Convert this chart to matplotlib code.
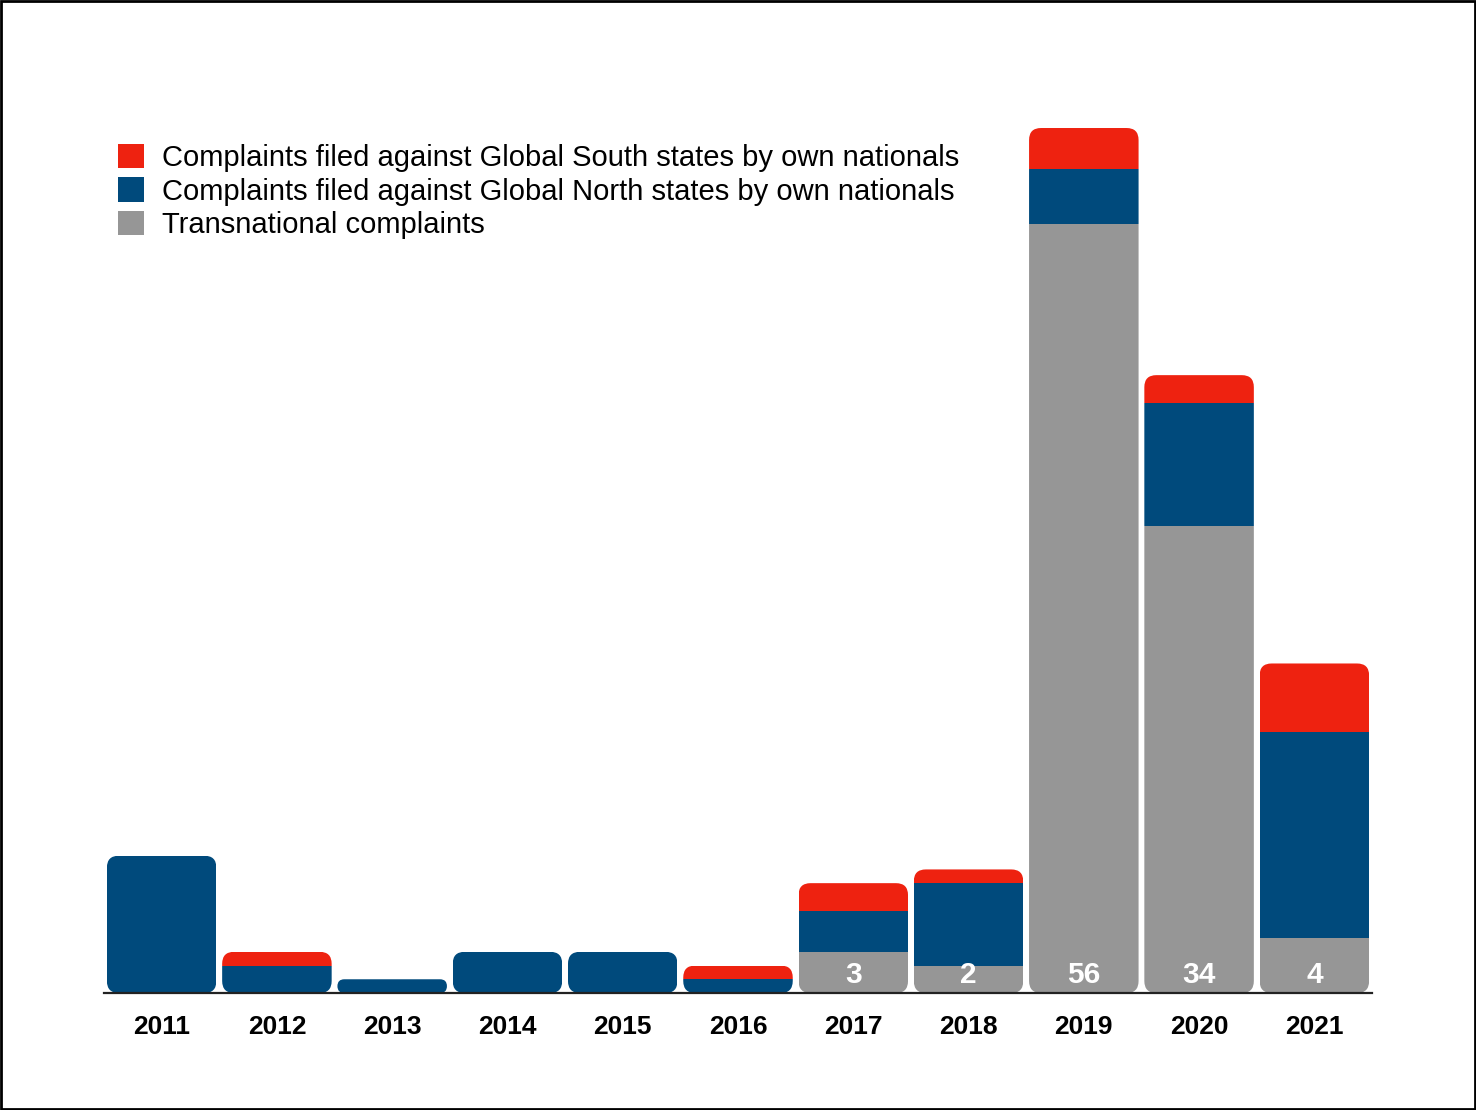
import matplotlib
matplotlib.use("Agg")
import matplotlib.pyplot as plt
from matplotlib.patches import FancyBboxPatch, Patch, Rectangle
import numpy as np

plt.rcParams['font.family'] = ['Liberation Sans', 'DejaVu Sans']

years = ['2011', '2012', '2013', '2014', '2015', '2016', '2017', '2018', '2019', '2020', '2021']
transnational = [0, 0, 0, 0, 0, 0, 3, 2, 56, 34, 4]
global_north = [10, 2, 1, 3, 3, 1, 3, 6, 4, 9, 15]
global_south = [0, 1, 0, 0, 0, 1, 2, 1, 3, 2, 5]

labels = ['Complaints filed against Global South states by own nationals',
          'Complaints filed against Global North states by own nationals',
          'Transnational complaints']

RED = '#ee2210'
BLUE = '#004a7c'
GRAY = '#969696'

W, H = 1476, 1110
fig = plt.figure(figsize=(W / 100, H / 100), dpi=100)
ax = fig.add_axes([104 / W, 1 - 993 / H, (1372 - 104) / W, (993 - 100) / H])

x = np.arange(len(years))
width = 0.95
ylim_top = (993 - 100) / 13.73
ax.set_xlim(-0.5, 10.5)
ax.set_ylim(0, ylim_top)

tn = np.array(transnational)
gn = np.array(global_north)
gs = np.array(global_south)

b1 = ax.bar(x, tn, width, color=GRAY, linewidth=0)
b2 = ax.bar(x, gn, width, bottom=tn, color=BLUE, linewidth=0)
b3 = ax.bar(x, gs, width, bottom=tn + gn, color=RED, linewidth=0)

# rounded clipping per stack
ax_w_px = (1372 - 104)
ax_h_px = (993 - 100)
ppx = ax_w_px / 11.0
ppy = ax_h_px / ylim_top
aspect = ppx / ppy
totals = tn + gn + gs
r_px = 12
for i in range(len(years)):
    h_px = totals[i] * ppy
    w_px = width * ppx
    rr = min(r_px, h_px / 2, w_px / 2) / ppx
    clip = FancyBboxPatch((x[i] - width / 2, 0), width, totals[i],
                          boxstyle=f"round,pad=0,rounding_size={rr}",
                          mutation_aspect=aspect, transform=ax.transData)
    for bars in (b1, b2, b3):
        bars[i].set_clip_path(clip)

for i in range(len(years)):
    if tn[i] > 0:
        ax.text(x[i], 1.3, str(tn[i]), ha='center', va='center', color='white',
                fontsize=21.5, fontweight='bold')

for s in ['top', 'right', 'left']:
    ax.spines[s].set_visible(False)
ax.spines['bottom'].set_linewidth(1.6)
ax.spines['bottom'].set_color('#222222')
ax.set_yticks([])
ax.set_xticks(x)
ax.set_xticklabels(years, fontsize=19, fontweight='bold')
ax.tick_params(axis='x', length=0, pad=16)

handles = [Patch(facecolor=RED, edgecolor='none'),
           Patch(facecolor=BLUE, edgecolor='none'),
           Patch(facecolor=GRAY, edgecolor='none')]
fig.legend(handles, labels, loc='upper left', bbox_to_anchor=(118 / W, 1 - 144 / H),
           frameon=False, fontsize=21, handlelength=0.9, handleheight=0.9,
           handletextpad=0.62, labelspacing=0.18, borderpad=0, borderaxespad=0)

fig.patches.append(Rectangle((0.001, 0.001), 0.998, 0.998, transform=fig.transFigure,
                             fill=False, edgecolor='black', linewidth=2))

fig.savefig('out.png', dpi=100)
